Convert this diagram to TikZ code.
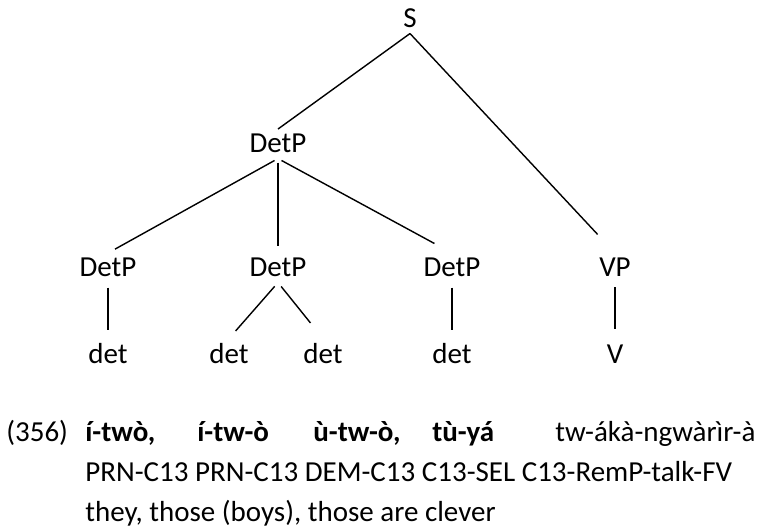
\documentclass[tikz,border=0pt]{standalone}
\usepackage{fontspec}
\setmainfont{Carlito}
\newcommand{\treefont}{\fontsize{16.5}{20}\selectfont}
\tikzset{
  cat/.style    = {anchor=base, inner sep=0.1cm},
  branch/.style = {line width=0.8pt, draw=black},
  gloss/.style  = {anchor=base west, inner sep=0pt},
  word/.style   = {gloss, font=\treefont\bfseries}
}

\begin{document}
\begin{tikzpicture}[font=\treefont]
\useasboundingbox (0,0) rectangle (15.18,10.62);
% ---- Phrase nodes ----
\node[cat] (S)  at (8.20,10.06) {S};
\node[cat] (DP) at (5.56,7.56)  {DetP};
\foreach \cx/\name/\txt in {2.16/DPa/DetP, 5.56/DPb/DetP, 9.04/DPc/DetP, 12.30/VP/VP}
  \node[cat] (\name) at (\cx,5.08) {\txt};
% ---- Terminals ----
\foreach \cx/\name/\txt in {2.16/da/det, 4.58/db/det, 6.46/dc/det, 9.04/dd/det, 12.30/V/V}
  \node[cat] (\name) at (\cx,3.34) {\txt};

% ---- Branches (shorten start / end) ----
\foreach \a/\b/\s/\e in {S/DP/0/0, S/VP/0/0.51,
    DP/DPa/0.08/0.16, DP/DPb/0.08/0.14, DP/DPc/0.08/0.40,
    DPa/da/0.1/0.18, DPb/db/0.1/0.2, DPb/dc/0.1/0.4,
    DPc/dd/0.1/0.18, VP/V/0.1/0.22}
  \draw[branch, shorten <=\s cm, shorten >=\e cm] (\a.south) -- (\b.north);

% ---- Example (356) ----
\node[gloss] (num) at (0.12,1.78) {(356)};
\foreach \cx/\name/\txt in {1.70/wa/{í-twò,}, 3.94/wb/{í-tw-ò}, 6.26/wc/{ù-tw-ò,}, 8.64/wd/{tù-yá}}
  \node[word] (\name) at (\cx,1.78) {\txt};
\node[gloss] (verb)  at (11.10,1.78) {tw-ákà-ngwàrìr-à};
\node[gloss] (glo)   at (1.70,0.98) {PRN-C13 PRN-C13 DEM-C13 C13-SEL C13-RemP-talk-FV};
\node[gloss] (trans) at (1.70,0.20) {they, those (boys), those are clever};
\end{tikzpicture}
\end{document}
